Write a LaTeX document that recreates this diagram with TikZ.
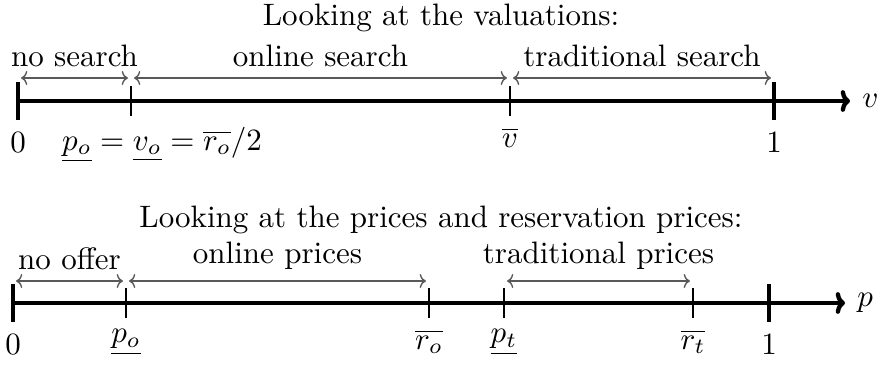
\documentclass[tikz,border=0pt]{standalone}
\usetikzlibrary{arrows.meta,calc}
\begin{document}
\begin{tikzpicture}[x=0.3226pt,y=-0.3226pt,
  axisline/.style={line width=1.4pt,-{To[length=3pt,width=7pt]}},
  bigtick/.style={line width=1.4pt},
  thintick/.style={line width=0.8pt},
  span/.style={black!65,line width=0.45pt,{To[length=2pt,width=4.5pt]}-{To[length=2pt,width=4.5pt]},shorten <=1pt,shorten >=1pt},
  lab/.style={inner sep=3.33pt}]
\useasboundingbox (0,0) rectangle (879,365);
% ---------- top: valuations ----------
\node[anchor=base] (t1) at (441,25) {Looking at the valuations:};
\coordinate (a0) at (18,101);
\coordinate (ao) at (131,101);
\coordinate (av) at (510,101);
\coordinate (a1) at (774,101);
\coordinate (aend) at (850,101);
\draw[axisline] (a0) -- (aend) node[right,lab] (vlab) {$v$};
\draw[bigtick] ($(a0)+(0,-19)$) -- ($(a0)+(0,19)$) node[below,lab] (l0) {$0$};
\draw[thintick] ($(ao)+(0,-15)$) -- ($(ao)+(0,15)$) coordinate (aob);
\draw[thintick] ($(av)+(0,-15)$) -- ($(av)+(0,15)$) node[below,lab] (lv) {$\overline{v}$};
\draw[bigtick] ($(a1)+(0,-19)$) -- ($(a1)+(0,19)$) node[below,lab] (l1) {$1$};
\node[below,lab] (lpo) at ($(aob)+(31,0)$) {$\underline{p_o}=\underline{v_o}=\overline{r_o}/2$};
\coordinate (s0) at (18,78);
\coordinate (so) at (131,78);
\coordinate (sv) at (510,78);
\coordinate (s1) at (774,78);
\draw[span] (s0) -- (so) node[midway,above,lab,black] (n1) {no search};
\draw[span] (so) -- (sv) node[midway,above,lab,black] (n2) {online search};
\draw[span] (sv) -- (s1) node[midway,above,lab,black] (n3) {traditional search};
% ---------- bottom: prices ----------
\node[anchor=base] (t2) at (441,227) {Looking at the prices and reservation prices:};
\coordinate (b0) at (13,303);
\coordinate (bpo) at (126,303);
\coordinate (bro) at (429,303);
\coordinate (bpt) at (504,303);
\coordinate (brt) at (693,303);
\coordinate (b1) at (769,303);
\coordinate (bend) at (845,303);
\draw[axisline] (b0) -- (bend) node[right,lab] (plab) {$p$};
\draw[bigtick] ($(b0)+(0,-19)$) -- ($(b0)+(0,19)$) node[below,lab] (m0) {$0$};
\draw[thintick] ($(bpo)+(0,-15)$) -- ($(bpo)+(0,15)$) node[below,lab] (mpo) {$\underline{p_o}$};
\draw[thintick] ($(bro)+(0,-15)$) -- ($(bro)+(0,15)$) node[below,lab] (mro) {$\overline{r_o}$};
\draw[thintick] ($(bpt)+(0,-15)$) -- ($(bpt)+(0,15)$) node[below,lab] (mpt) {$\underline{p_t}$};
\draw[thintick] ($(brt)+(0,-15)$) -- ($(brt)+(0,15)$) node[below,lab] (mrt) {$\overline{r_t}$};
\draw[bigtick] ($(b1)+(0,-19)$) -- ($(b1)+(0,19)$) node[below,lab] (m1) {$1$};
\coordinate (q0) at (13,281);
\coordinate (qpo) at (126,281);
\coordinate (qro) at (429,281);
\coordinate (qpt) at (504,281);
\coordinate (qrt) at (693,281);
\draw[span] (q0) -- (qpo) node[midway,above,lab,black] (o1) {no offer};
\draw[span] (qpo) -- (qro) node[midway,above,lab,black] (o2) {online prices};
\draw[span] (qpt) -- (qrt) node[midway,above,lab,black] (o3) {traditional prices};
\end{tikzpicture}
\end{document}
